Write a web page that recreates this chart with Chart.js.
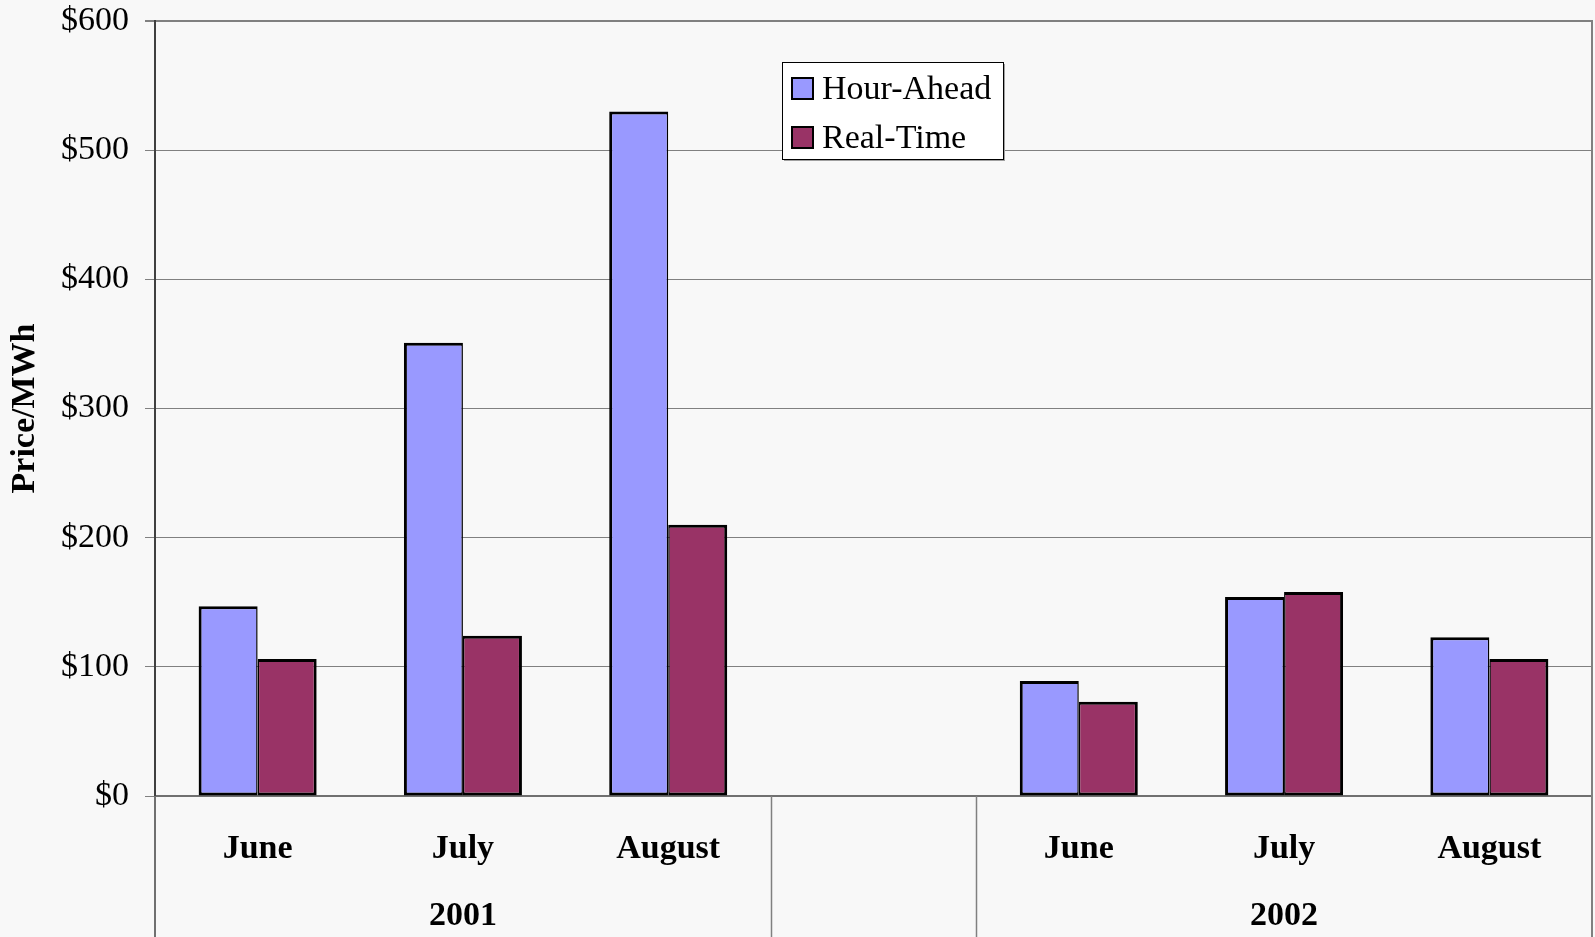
<!DOCTYPE html>
<html><head><meta charset="utf-8">
<script src="https://cdn.jsdelivr.net/npm/chart.js@4.4.0/dist/chart.umd.min.js"></script>
<style>html,body{margin:0;padding:0;background:#f8f8f8;}#wrap{width:1595px;height:937px;position:relative;}canvas{display:block;}</style>
</head><body><div id="wrap"><canvas id="c" width="1595" height="937"></canvas></div>
<script>
const months = ['June', 'July', 'August', '', 'June', 'July', 'August'];
const years = ['', '2001', '', '', '', '2002', ''];
const hourAhead = [147, 351, 530, null, 89, 154, 123];
const realTime = [106, 124, 210, null, 73, 158, 106];
const seriesNames = ['Hour-Ahead', 'Real-Time'];
const yTitle = 'Price/MWh';

const FONT = "'Liberation Serif', 'Times New Roman', serif";
const colors = ['#9999FF', '#993366'];

const framePlugin = {
  id: 'frame',
  beforeDraw(chart) {
    const ctx = chart.ctx;
    ctx.save();
    ctx.fillStyle = '#f8f8f8';
    ctx.fillRect(0, 0, chart.width, chart.height);
    ctx.restore();
  },
  afterDraw(chart) {
    const { ctx, chartArea: { left, right, top, bottom }, scales: { x } } = chart;
    const H = chart.height;
    ctx.save();
    ctx.strokeStyle = '#808080';
    ctx.lineWidth = 2;
    ctx.beginPath();
    ctx.moveTo(right, top - 1); ctx.lineTo(right, H);
    ctx.stroke();
    ctx.strokeStyle = '#707070';
    ctx.beginPath();
    ctx.moveTo(left, bottom); ctx.lineTo(left, H);
    ctx.stroke();
    const half = (x.getPixelForValue(1) - x.getPixelForValue(0)) / 2;
    ctx.lineWidth = 1.5;
    ctx.strokeStyle = '#808080';
    months.forEach((m, i) => {
      if (m === '') {
        const p = x.getPixelForValue(i);
        [p - half, p + half].forEach(px => {
          ctx.beginPath();
          ctx.moveTo(Math.round(px) + 0.5, bottom); ctx.lineTo(Math.round(px) + 0.5, H);
          ctx.stroke();
        });
      }
    });
    // legend
    const lx = 782, ly = 62, lw = 221, lh = 97;
    ctx.fillStyle = '#a0a0a0';
    ctx.fillRect(lx + 2, ly + 2, lw, lh);
    ctx.fillStyle = '#ffffff';
    ctx.fillRect(lx, ly, lw, lh);
    ctx.strokeStyle = '#000';
    ctx.lineWidth = 1;
    ctx.strokeRect(lx + 0.5, ly + 0.5, lw, lh);
    ctx.font = '34px ' + FONT;
    ctx.textBaseline = 'middle';
    ctx.textAlign = 'left';
    chart.data.datasets.forEach((ds, i) => {
      const cy = ly + 27 + i * 49;
      ctx.fillStyle = ds.backgroundColor;
      ctx.fillRect(lx + 10, cy - 11, 21, 21);
      ctx.lineWidth = 2;
      ctx.strokeStyle = '#000';
      ctx.strokeRect(lx + 10, cy - 11, 21, 21);
      ctx.fillStyle = '#000';
      ctx.fillText(ds.label, lx + 40, cy + 1);
    });
    ctx.restore();
  }
};

const labels = months.map((m, i) => [m, years[i]]);

new Chart(document.getElementById('c'), {
  type: 'bar',
  data: {
    labels,
    datasets: [
      { label: seriesNames[0], data: hourAhead, backgroundColor: colors[0], borderColor: '#000',
        borderWidth: { top: 3, left: 3, right: 1.5, bottom: 3 }, borderSkipped: false },
      { label: seriesNames[1], data: realTime, backgroundColor: colors[1], borderColor: '#000',
        borderWidth: { top: 3, left: 1.5, right: 3, bottom: 3 }, borderSkipped: false }
    ]
  },
  options: {
    responsive: false,
    animation: false,
    layout: { padding: { top: 0, right: 3, left: 0, bottom: 0 } },
    datasets: { bar: { categoryPercentage: 0.575, barPercentage: 1.0 } },
    plugins: { legend: { display: false }, tooltip: { enabled: false } },
    scales: {
      x: {
        offset: true,
        grid: { display: false, drawTicks: false },
        border: { display: true, color: '#707070', width: 2 },
        ticks: { color: '#000', font: { family: FONT, size: 34, weight: 'bold', lineHeight: 1.97 },
                 padding: 20, maxRotation: 0, autoSkip: false },
        afterFit(scale) { scale.height = 141; }
      },
      y: {
        min: 0, max: 600,
        ticks: { stepSize: 100, color: '#000', padding: 16,
                 font: { family: FONT, size: 34 },
                 callback: v => '$' + v },
        grid: { color: '#808080', lineWidth: ctx => (ctx.index === 6 ? 2 : 1), tickLength: 10 },
        border: { display: true, color: '#404040', width: 2 },
        title: { display: true, text: yTitle, color: '#000',
                 font: { family: FONT, size: 34, weight: 'bold', lineHeight: 1.2 },
                 padding: { top: 5, bottom: 10 } },
        afterFit(scale) { scale.width = 155; scale.paddingTop = 21; scale.paddingBottom = 20; }
      }
    }
  },
  plugins: [framePlugin]
});
</script>
</body></html>
